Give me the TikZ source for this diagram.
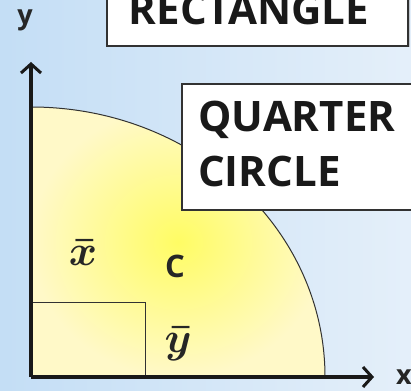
\documentclass[tikz,border=0pt]{standalone}
\usepackage{fontspec}
\setsansfont{Open Sans}
\usetikzlibrary{arrows.meta,shadows}
\definecolor{bgA}{RGB}{194,221,245}
\definecolor{bgB}{RGB}{230,240,250}
\definecolor{yelIn}{RGB}{255,252,100}
\definecolor{yelOut}{RGB}{255,249,200}
\definecolor{edge}{RGB}{50,50,50}
\begin{document}
\begin{tikzpicture}[x=1pt,y=1pt,
  axisline/.style={line width=3.4pt,black!90,-{Straight Barb[length=9pt,width=20pt,line width=3pt]}},
  thinline/.style={line width=1pt,edge},
  labelbox/.style={draw=edge,line width=1.4pt,fill=white,
    drop shadow={opacity=0.35,shadow xshift=1.5pt,shadow yshift=-1.5pt}},
  boxtext/.style={font=\sffamily\bfseries\fontsize{42}{46}\selectfont,text=black!90,inner sep=0pt},
  axistext/.style={font=\sffamily\bfseries\fontsize{27}{30}\selectfont,text=black!85,inner sep=0pt},
  mathtext/.style={scale=4.3,font=\boldmath,text=black!85,inner sep=0pt}]
\useasboundingbox (0,0) rectangle (411,390);
\clip (0,0) rectangle (411,390);
% background
\shade[left color=bgA,right color=bgB] (-20,-20) rectangle (431,410);
% quarter circle
\coordinate (O) at (31,13);
\coordinate (R) at (325,13);
\shade[inner color=yelIn,outer color=yelOut] (O) -- (R) arc[start angle=0,end angle=90,x radius=294,y radius=270] -- cycle;
\draw[thinline] (R) arc[start angle=0,end angle=90,x radius=294,y radius=270];
% centroid rectangle
\coordinate (P) at (31,87);
\coordinate (Q) at (145,87);
\coordinate (S) at (145,13);
\draw[thinline] (P) -- (Q) -- (S);
% axes
\coordinate (Ytip) at (31,328);
\coordinate (Xtip) at (374,13);
\draw[axisline] (O) -- (Ytip);
\draw[axisline] (O) -- (Xtip);
\node[axistext] (ylab) at (25,370) {y};
\node[axistext,anchor=base west] (xlab) at (396,6) {x};
% labels
\node[mathtext] (xbar) at (83,137.5) {$\bar{x}$};
\node[axistext,font=\sffamily\bfseries\fontsize{31}{33}\selectfont] (clab) at (175,124) {C};
\node[mathtext] (ybar) at (178,46) {$\bar{y}$};
% boxes
\draw[labelbox] (107,344) rectangle (408,400);
\node[boxtext,anchor=base] (rect) at (249,365) {RECTANGLE};
\draw[labelbox] (182,180) rectangle (430,306);
\node[boxtext,anchor=base west] (quarter) at (198,258) {QUARTER};
\node[boxtext,anchor=base west] (circle) at (198,203) {CIRCLE};
\end{tikzpicture}
\end{document}
